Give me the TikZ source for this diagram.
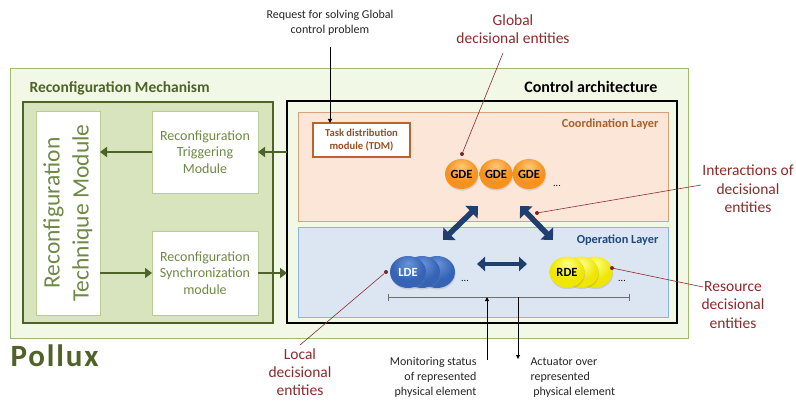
\documentclass[tikz,border=0pt]{standalone}
\usepackage{fontspec}
\setmainfont{Carlito}
\usetikzlibrary{arrows.meta,shadings,shadows,shapes.geometric}
\definecolor{outerfill}{HTML}{F2F8E6}
\definecolor{outerborder}{HTML}{9DBB6A}
\definecolor{innerfill}{HTML}{D7E4BD}
\definecolor{olive}{HTML}{4F6228}
\definecolor{modborder}{HTML}{B8CC94}
\definecolor{modtext}{HTML}{6E8A45}
\definecolor{coordfill}{HTML}{FCE6D8}
\definecolor{coordborder}{HTML}{D9A27A}
\definecolor{coordtext}{HTML}{A8602A}
\definecolor{tdmborder}{HTML}{B8642A}
\definecolor{opfill}{HTML}{DCE6F2}
\definecolor{opborder}{HTML}{8EB4E3}
\definecolor{navy}{HTML}{1F3F6E}
\definecolor{optext}{HTML}{1F497D}
\definecolor{darkred}{HTML}{8C2B2B}
\definecolor{txtgray}{HTML}{262626}
\definecolor{busgray}{HTML}{6E6E6E}
\definecolor{gdelight}{HTML}{FCC878}
\definecolor{gdemain}{HTML}{F7921E}
\definecolor{gdedark}{HTML}{D06C08}
\definecolor{ldelight}{HTML}{6A94DA}
\definecolor{ldemain}{HTML}{3563B5}
\definecolor{ldedark}{HTML}{24488A}
\definecolor{rdelight}{HTML}{FFFF90}
\definecolor{rdemain}{HTML}{F0E600}
\definecolor{rdedark}{HTML}{BCAE00}
\pgfdeclareradialshading{gdeball}{\pgfpoint{0bp}{14bp}}{color(0bp)=(gdelight); color(22bp)=(gdemain); color(50bp)=(gdemain); color(62bp)=(gdedark)}
\pgfdeclareradialshading{ldeball}{\pgfpoint{0bp}{14bp}}{color(0bp)=(ldelight); color(22bp)=(ldemain); color(50bp)=(ldemain); color(62bp)=(ldedark)}
\pgfdeclareradialshading{rdeball}{\pgfpoint{0bp}{14bp}}{color(0bp)=(rdelight); color(22bp)=(rdemain); color(50bp)=(rdemain); color(62bp)=(rdedark)}
\tikzset{
  box/.style={draw, rectangle, inner sep=0pt, outer sep=0pt, anchor=north west},
  modbox/.style={box, fill=white, draw=modborder, line width=0.8pt},
  modtxt/.style={text=modtext, align=center, font=\fontsize{14}{16.7}\selectfont},
  garrow/.style={draw=olive, line width=2.6pt, -{Triangle[length=7pt,width=10pt]}},
  navyarrow/.style={draw=navy, line width=5.5pt, {Triangle[length=9pt,width=17pt]}-{Triangle[length=9pt,width=17pt]}},
  navyharrow/.style={draw=navy, line width=4.5pt, {Triangle[length=8pt,width=14pt]}-{Triangle[length=8pt,width=14pt]}},
  redline/.style={draw=darkred, line width=0.6pt},
  reddot/.style={circle, fill=darkred!85!black, inner sep=0pt, minimum size=4pt},
  redlabel/.style={text=darkred, align=center, font=\fontsize{15.5}{18.5}\selectfont},
  smalllabel/.style={text=txtgray, font=\fontsize{12}{15}\selectfont},
  ballnode/.style={ellipse, inner sep=0pt, font=\bfseries\fontsize{12.5}{14}\selectfont,
     drop shadow={shadow xshift=0.6pt, shadow yshift=-1.6pt, opacity=0.25}},
  gball/.style={ballnode, shading=gdeball, minimum width=33pt, minimum height=30pt, text=black},
  lball/.style={ballnode, shading=ldeball, minimum width=36pt, minimum height=32pt, text=white},
  rball/.style={ballnode, shading=rdeball, minimum width=35pt, minimum height=31pt, text=black},
  dotstxt/.style={font=\fontsize{10}{12}\selectfont},
  blackarrow/.style={draw=black, line width=1pt, -{Triangle[length=4pt,width=4pt]}},
}
\begin{document}
\begin{tikzpicture}[x=1pt,y=-1pt]
\path[use as bounding box, fill=white] (0,0) rectangle (796,401);

% Pollux outer box
\node[box, fill=outerfill, draw=outerborder, line width=0.6pt, minimum width=678pt, minimum height=270pt] (pollux) at (10,68) {};
\node[anchor=west, text=olive, font=\bfseries\fontsize{15.5}{17}\selectfont] (rmtitle) at (26,88) {Reconfiguration Mechanism};
\node[anchor=west, text=olive, font=\bfseries\fontsize{31}{33}\selectfont\addfontfeature{LetterSpace=6}] (pname) at (7,356) {Pollux};

% Reconfiguration mechanism
\node[box, fill=innerfill, draw=olive, line width=1.3pt, minimum width=250pt, minimum height=221pt] (mech) at (23,102) {};
\node[box, fill=white, draw=modborder, line width=0.8pt, minimum width=64pt, minimum height=204pt] (tech) at (36,111) {};
\node[rotate=90, text=modtext, align=center, font=\fontsize{23.5}{29}\selectfont] (techtxt) at (tech.center) {Reconfiguration\\Technique Module};
\node[modbox, minimum width=106pt, minimum height=82pt] (trig) at (152,111) {};
\node[modtxt] (trigtxt) at (trig.center) {Reconfiguration\\Triggering\\Module};
\node[modbox, minimum width=106pt, minimum height=84pt] (sync) at (152,231) {};
\node[modtxt] (synctxt) at (sync.center) {Reconfiguration\\Synchronization\\module};

% Control architecture
\node[box, fill=outerfill, draw=black, line width=1.8pt, minimum width=390pt, minimum height=222pt] (ctrl) at (287,101) {};
\node[anchor=east, text=black, font=\bfseries\fontsize{16}{18}\selectfont] (ctitle) at (661,87) {Control architecture};

% Coordination layer
\node[box, fill=coordfill, draw=coordborder, line width=0.8pt, minimum width=370pt, minimum height=109pt] (coord) at (298,112) {};
\node[anchor=east, text=coordtext, font=\bfseries\fontsize{12.3}{14}\selectfont] (coordtitle) at (662,124) {Coordination Layer};
\node[box, fill=white, draw=tdmborder, line width=1.5pt, minimum width=97pt, minimum height=34pt] (tdm) at (313,123) {};
\node[text=tdmborder!80!black, align=center, font=\bfseries\fontsize{10.6}{13.5}\selectfont] (tdmtxt) at (tdm.center) {Task distribution\\module (TDM)};

\node[gball] (g1) at (461.5,174) {GDE};
\node[gball] (g2) at (496,174) {GDE};
\node[gball] (g3) at (529,174) {GDE};
\node[dotstxt] (gdots) at (557,186) {...};

% Operation layer
\node[box, fill=opfill, draw=opborder, line width=0.8pt, minimum width=370pt, minimum height=90pt] (op) at (298,227) {};
\node[anchor=east, text=optext, font=\bfseries\fontsize{12.3}{14}\selectfont] (optitle) at (662,240) {Operation Layer};

\node[lball] (l3) at (437,272) {};
\node[lball] (l2) at (422,272) {};
\node[lball] (l1) at (408,272) {LDE};
\node[dotstxt] (ldots) at (465,281) {...};

\node[rball] (r3) at (595,272) {};
\node[rball] (r2) at (581,272) {};
\node[rball] (r1) at (567,272) {RDE};
\node[dotstxt] (rdots) at (622,281) {...};

% bus
\coordinate (busl) at (388,297);
\coordinate (busr) at (630,297);
\draw[busgray, line width=1pt, |-|] (busl) -- (busr);

% navy arrows
\coordinate (na1) at (478,206);
\coordinate (na2) at (443,240);
\coordinate (nb1) at (520,206);
\coordinate (nb2) at (553,240);
\coordinate (nc1) at (477,264);
\coordinate (nc2) at (527,264);
\draw[navyarrow] (na1) -- (na2);
\draw[navyarrow] (nb1) -- (nb2);
\draw[navyharrow] (nc1) -- (nc2);

% green arrows
\draw[garrow] (trig.west) -- (trig.west -| tech.east);
\draw[garrow] (ctrl.west |- trig.east) -- (trig.east);
\draw[garrow] (tech.east |- sync.west) -- (sync.west);
\draw[garrow] (sync.east) -- (ctrl.west |- sync.east);

% request
\node[smalllabel, align=center] (req) at (330,23) {Request for solving Global\\control problem};
\draw[blackarrow] ([yshift=-8pt]req.south) -- (req.south |- tdm.north);

% monitoring / actuator
\node[smalllabel, align=right, anchor=north east] (mon) at (480,354) {Monitoring status\\of represented\\physical element};
\node[smalllabel, align=left, anchor=north west] (act) at (527,354) {Actuator over\\represented\\\ physical element};
\coordinate (monb) at (487,360);
\coordinate (mont) at (487,297);
\coordinate (actt) at (518,297);
\coordinate (actb) at (518,359);
\draw[blackarrow] (monb) -- (mont);
\draw[blackarrow] (actt) -- (actb);

% red labels
\node[redlabel] (glob) at (513,29) {Global\\decisional entities};
\coordinate (globend) at (503,53);
\node[reddot] (gdot) at (462,154) {};
\draw[redline] (globend) -- (gdot);

\node[redlabel] (inter) at (748,189) {Interactions of\\decisional\\entities};
\coordinate (interend) at (701,185);
\node[reddot] (idot) at (537,213) {};
\draw[redline] (idot) -- (interend);

\node[redlabel] (res) at (733,305) {Resource\\decisional\\entities};
\coordinate (resend) at (703,287);
\node[reddot] (rdot) at (612,268) {};
\draw[redline] (rdot) -- (resend);

\node[redlabel, font=\fontsize{15.5}{17.8}\selectfont] (loc) at (300,372) {Local\\decisional\\entities};
\coordinate (locend) at (300,345);
\node[reddot] (ldot) at (386,272) {};
\draw[redline] (ldot) -- (locend);
\end{tikzpicture}
\end{document}
